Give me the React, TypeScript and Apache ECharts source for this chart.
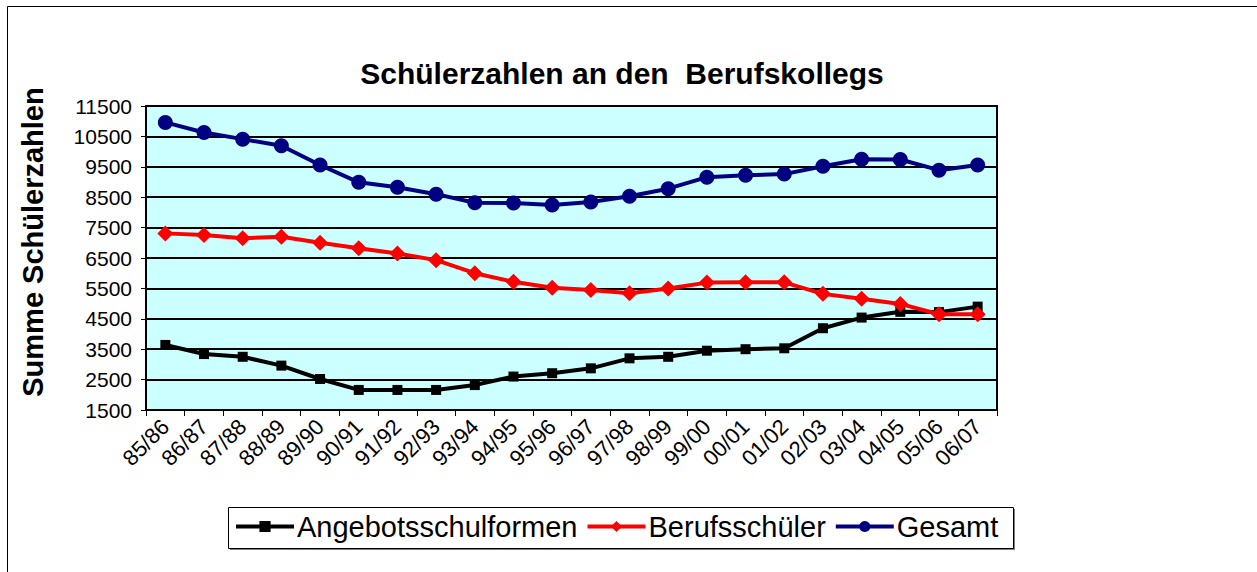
import React, { useEffect, useRef } from "react";
import * as echarts from "echarts";

const categories = ["85/86","86/87","87/88","88/89","89/90","90/91","91/92","92/93","93/94","94/95","95/96","96/97","97/98","98/99","99/00","00/01","01/02","02/03","03/04","04/05","05/06","06/07"];
const angebotsschulformen = [3640,3340,3250,2960,2520,2160,2160,2160,2320,2600,2710,2870,3200,3250,3450,3500,3530,4190,4540,4730,4720,4900];
const berufsschueler = [7310,7260,7150,7200,7000,6820,6650,6430,6000,5720,5520,5450,5340,5500,5690,5700,5700,5320,5160,4990,4650,4650];
const gesamt = [10960,10630,10410,10190,9560,8990,8830,8600,8320,8310,8240,8340,8530,8780,9160,9220,9260,9520,9750,9740,9390,9560];
const yMin = 1500;
const yMax = 11500;
const yStep = 1000;

const FONT = "'Liberation Sans', Arial, sans-serif";

export default function App() {
  const ref = useRef<HTMLDivElement>(null);
  useEffect(() => {
    if (!ref.current) return;
    const chart = echarts.init(ref.current, null, { renderer: "svg" });
    chart.setOption({
      animation: false,
      backgroundColor: "#ffffff",
      textStyle: { fontFamily: FONT, color: "#000" },
      title: {
        text: "Schülerzahlen an den  Berufskollegs",
        left: 617,
        top: 53,
        textAlign: "center",
        textStyle: { fontFamily: FONT, fontSize: 30, fontWeight: "bold", color: "#000" },
      },
      graphic: [
        {
          type: "rect",
          z: -10,
          shape: { x: 7.5, y: 6.5, width: 1300, height: 700 },
          style: { fill: "none", stroke: "#000", lineWidth: 1 },
          silent: true,
        },
        {
          type: "rect",
          z: -5,
          shape: { x: 230, y: 509, width: 785, height: 41 },
          style: { fill: "#808080" },
          silent: true,
        },
        {
          type: "rect",
          z: -4,
          shape: { x: 228.5, y: 507.5, width: 785, height: 41 },
          style: { fill: "#fff", stroke: "#000", lineWidth: 1 },
          silent: true,
        },
        {
          type: "text",
          x: 33,
          y: 242,
          rotation: Math.PI / 2,
          style: {
            text: "Summe Schülerzahlen",
            fontFamily: FONT,
            fontSize: 29,
            fontWeight: "bold",
            fill: "#000",
            align: "center",
            verticalAlign: "middle",
          },
        },
      ],
      legend: {
        left: 234,
        top: 512,
        itemWidth: 58,
        itemHeight: 14,
        itemGap: 8,
        padding: 0,
        lineStyle: { width: 4 },
        textStyle: { fontFamily: FONT, fontSize: 29, color: "#000", padding: [0, 0, 0, -2] },
        data: ["Angebotsschulformen", "Berufsschüler", "Gesamt"],
      },
      grid: {
        left: 146,
        right: 260,
        top: 106,
        bottom: 162,
        show: true,
        backgroundColor: "#CCFFFF",
        borderColor: "#000",
        borderWidth: 2,
      },
      xAxis: {
        type: "category",
        data: categories,
        boundaryGap: true,
        axisLine: { lineStyle: { color: "#000", width: 2 } },
        axisTick: { show: true, length: 6, lineStyle: { color: "#000", width: 1 } },
        axisLabel: { rotate: 45, fontFamily: FONT, fontSize: 22, color: "#000", margin: 13, interval: 0 },
        splitLine: { show: false },
      },
      yAxis: {
        type: "value",
        min: yMin,
        max: yMax,
        interval: yStep,
        axisLine: { show: true, lineStyle: { color: "#000", width: 2 } },
        axisTick: { show: true, length: 5, lineStyle: { color: "#000", width: 1 } },
        axisLabel: { fontFamily: FONT, fontSize: 21, color: "#000", margin: 14, formatter: (v: number) => String(v) },
        splitLine: { show: true, lineStyle: { color: "#000", width: 2 } },
      },
      series: [
        {
          name: "Angebotsschulformen",
          type: "line",
          data: angebotsschulformen,
          symbol: "rect",
          symbolSize: 10,
          lineStyle: { color: "#000", width: 4 },
          itemStyle: { color: "#000" },
        },
        {
          name: "Berufsschüler",
          type: "line",
          data: berufsschueler,
          symbol: "diamond",
          symbolSize: 16,
          lineStyle: { color: "#FF0000", width: 4 },
          itemStyle: { color: "#FF0000" },
        },
        {
          name: "Gesamt",
          type: "line",
          data: gesamt,
          symbol: "circle",
          symbolSize: 15,
          lineStyle: { color: "#000080", width: 4 },
          itemStyle: { color: "#000080" },
        },
      ],
    });
    return () => chart.dispose();
  }, []);
  return <div ref={ref} style={{ position: "absolute", left: 0, top: 0, width: 1257, height: 572 }} />;
}
